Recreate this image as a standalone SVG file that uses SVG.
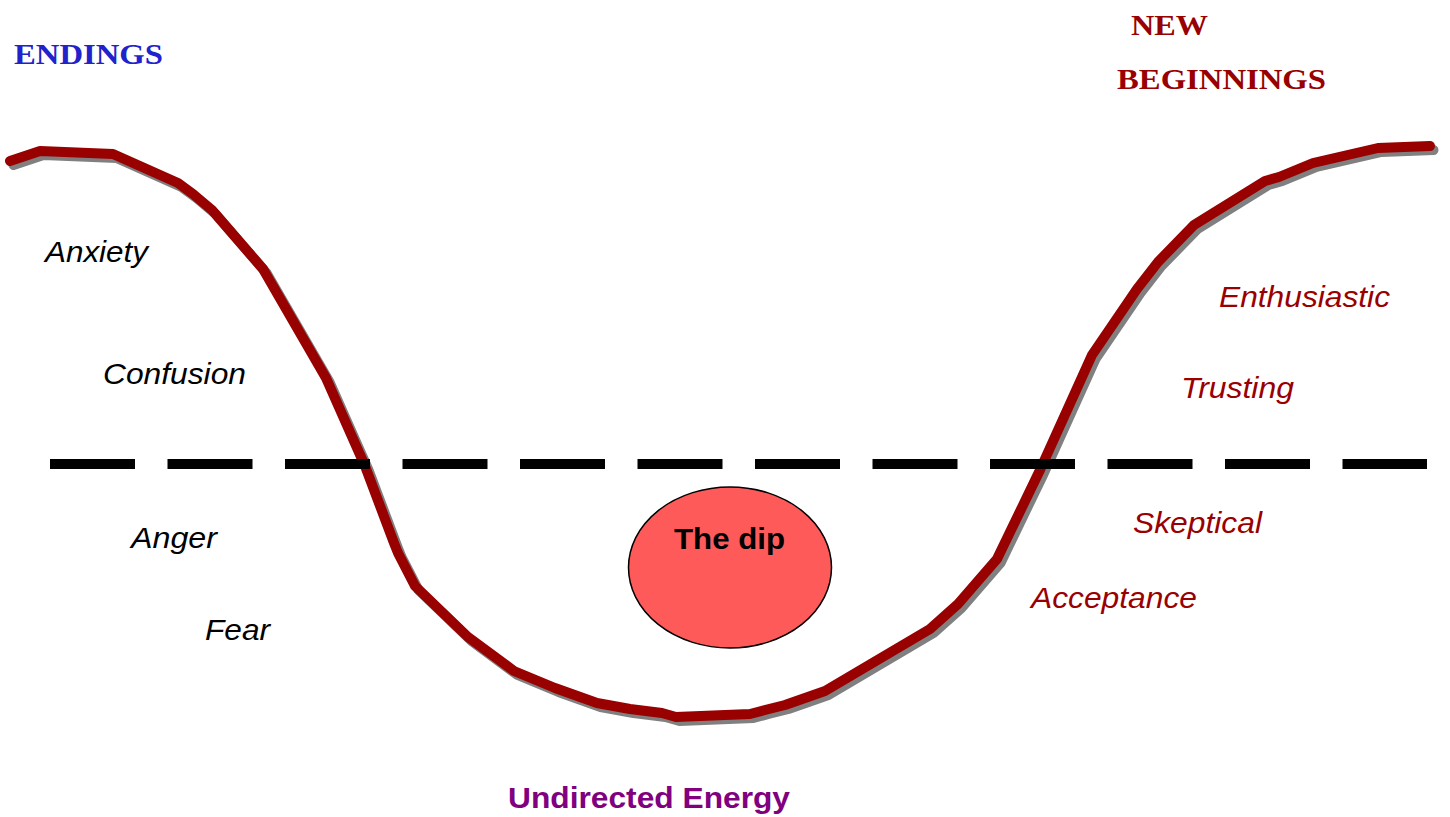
<svg xmlns="http://www.w3.org/2000/svg" width="1450" height="817" viewBox="0 0 1450 817">
<style>
.lbl{font-family:"Liberation Sans",Arial,sans-serif;font-style:italic;font-size:30px}
.blk{fill:#000}
.red{fill:#990000}
.hd{font-family:"Liberation Serif","Times New Roman",serif;font-weight:bold;font-size:29px}
.curve{fill:none;stroke-width:10;stroke-linejoin:round;stroke-linecap:round}
</style>
<defs>
<polyline id="curvePts" points="10,161 40,151 113,154 178,183 193,194 212,210 263,269 326,378 365,466 394,543 398,553 415,586 468,637 514,671 555,688 597,703 630,709 662,713 676,717 750,714 765,710 785,705 825,691 930,629 958,604 997,559 1040,470 1092,355 1137,289 1158,262 1194,225 1265,181 1279,177 1313,163 1378,148 1430,146"/>
</defs>
<rect width="1450" height="817" fill="#fff"/>
<g id="connectors">
<use href="#curvePts" class="curve" stroke="#808080" transform="translate(3.5,4)"/>
<use href="#curvePts" class="curve" stroke="#990000"/>
<line x1="50" y1="464" x2="1427" y2="464" stroke="#000" stroke-width="10" stroke-dasharray="85 32.5"/>
</g>
<g id="endings"><text class="hd" x="14" y="64" fill="#2222CC" textLength="149" lengthAdjust="spacingAndGlyphs">ENDINGS</text></g>
<g id="new-beginnings">
<text class="hd red" x="1131" y="35" textLength="77" lengthAdjust="spacingAndGlyphs">NEW</text>
<text class="hd red" x="1117" y="89" textLength="209" lengthAdjust="spacingAndGlyphs">BEGINNINGS</text>
</g>
<g id="anxiety"><text class="lbl blk" x="45" y="262" textLength="103" lengthAdjust="spacingAndGlyphs">Anxiety</text></g>
<g id="confusion"><text class="lbl blk" x="103" y="384" textLength="143" lengthAdjust="spacingAndGlyphs">Confusion</text></g>
<g id="anger"><text class="lbl blk" x="131" y="548" textLength="86" lengthAdjust="spacingAndGlyphs">Anger</text></g>
<g id="fear"><text class="lbl blk" x="205" y="640" textLength="65" lengthAdjust="spacingAndGlyphs">Fear</text></g>
<g id="enthusiastic"><text class="lbl red" x="1219" y="307" textLength="171" lengthAdjust="spacingAndGlyphs">Enthusiastic</text></g>
<g id="trusting"><text class="lbl red" x="1181" y="398" textLength="113" lengthAdjust="spacingAndGlyphs">Trusting</text></g>
<g id="skeptical"><text class="lbl red" x="1133" y="533" textLength="129" lengthAdjust="spacingAndGlyphs">Skeptical</text></g>
<g id="acceptance"><text class="lbl red" x="1031" y="608" textLength="166" lengthAdjust="spacingAndGlyphs">Acceptance</text></g>
<g id="the-dip">
<ellipse cx="730" cy="567.5" rx="101.5" ry="80.5" fill="#FF5A5A" stroke="#000" stroke-width="1.5"/>
<text x="674" y="549" font-family="Liberation Sans,Arial,sans-serif" font-weight="bold" font-size="30" fill="#000" textLength="111" lengthAdjust="spacingAndGlyphs">The dip</text>
</g>
<g id="undirected-energy"><text x="508" y="808" font-family="Liberation Sans,Arial,sans-serif" font-weight="bold" font-size="29" fill="#800080" textLength="282" lengthAdjust="spacingAndGlyphs">Undirected Energy</text></g>
</svg>
